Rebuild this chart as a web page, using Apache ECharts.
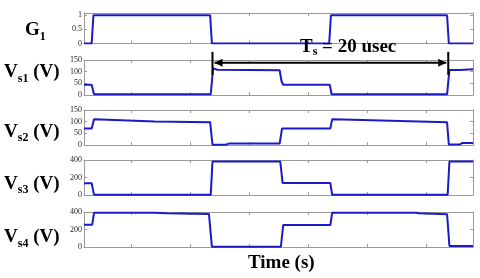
<!DOCTYPE html>
<html><head><meta charset="utf-8">
<script src="https://cdn.jsdelivr.net/npm/echarts@6/dist/echarts.min.js"></script>
<style>html,body{margin:0;padding:0;background:#fff}#c{width:480px;height:278px}</style>
</head><body><div id="c"></div>
<script>
// time axis in microseconds
const xTicks = [4, 9, 14, 19, 24, 29];

const g1T = [0, 0.65, 0.8, 10.7, 10.85, 20.8, 20.95, 30.8, 30.95, 33];
const g1V = [0, 0, 1, 1, 0, 0, 1, 1, 0, 0];

const vs1T = [0, 0.65, 0.85, 10.75, 10.95, 11.3, 16.6, 16.75, 16.9, 20.85, 21.0, 30.8, 31.0, 31.9, 32.05, 33];
const vs1V = [44, 44, 3, 3, 114, 108, 106, 60, 44, 44, 3, 3, 107, 107, 110, 110];

const vs2T = [0, 0.65, 0.85, 2, 6, 10.7, 10.9, 12.0, 12.3, 16.6, 16.8, 20.9, 21.05, 22, 30.8, 30.95, 31.9, 32.1, 33];
const vs2V = [71, 71, 110, 108, 101, 98, 1, 1, 6, 6, 71, 71, 110, 109, 97, 2, 2, 9, 9];

const vs3T = [0, 0.65, 0.85, 10.75, 10.9, 16.65, 16.85, 20.9, 21.05, 30.85, 31.0, 33];
const vs3V = [135, 135, 2, 2, 382, 382, 136, 136, 3, 3, 382, 382];

const vs4T = [0, 0.7, 0.85, 6, 7, 10.6, 10.85, 16.7, 16.9, 20.9, 21.05, 28.2, 28.4, 30.8, 31.0, 33];
const vs4V = [255, 255, 392, 392, 385, 378, 3, 3, 251, 251, 392, 392, 385, 375, 11, 11];

const yMax = [1.08, 150, 150, 400, 400];
const yTicks = [[0, 0.5, 1], [0, 50, 100, 150], [0, 50, 100, 150], [0, 200, 400], [0, 200, 400]];
const names = ['G1', 'Vs1', 'Vs2', 'Vs3', 'Vs4'];
const seriesT = [g1T, vs1T, vs2T, vs3T, vs4T];
const seriesV = [g1V, vs1V, vs2V, vs3V, vs4V];

// Ts annotation (in Vs1 panel coordinates)
const tsStart = 10.9, tsEnd = 30.9, tsArrowY = 138, tsBarTop = 185, tsBarBottom = 86;

const tops = [13, 60, 110, 160, 212];
const heights = [30.5, 35, 35, 35, 35];
const axisColor = '#9a9a9a';
const lineColor = '#1a1ac8';
const serif = 'Liberation Serif';

const grids = [], xAxes = [], yAxes = [], series = [];
for (let i = 0; i < 5; i++) {
  grids.push({left: 84, width: 389, top: tops[i], height: heights[i]});
  ['bottom', 'top'].forEach(pos => xAxes.push({
    gridIndex: i, type: 'value', position: pos, min: 0, max: 33,
    axisLine: {show: true, onZero: false, lineStyle: {color: axisColor, width: 1}},
    axisTick: {show: true, inside: true, length: 3, customValues: xTicks, lineStyle: {color: axisColor}},
    axisLabel: {show: false}, splitLine: {show: false}
  }));
  ['left', 'right'].forEach(pos => yAxes.push({
    gridIndex: i, type: 'value', position: pos, min: 0, max: yMax[i],
    axisLine: {show: true, onZero: false, lineStyle: {color: axisColor, width: 1}},
    axisTick: {show: true, inside: true, length: 3, customValues: yTicks[i], lineStyle: {color: axisColor}},
    axisLabel: {show: pos === 'left', customValues: yTicks[i], fontSize: 8, fontFamily: serif, color: '#222', margin: 2},
    splitLine: {show: false}
  }));
  series.push({
    name: names[i], type: 'line', xAxisIndex: 2 * i, yAxisIndex: 2 * i,
    data: seriesT[i].map((t, k) => [t, seriesV[i][k]]),
    symbol: 'none', lineStyle: {color: lineColor, width: 2}, clip: true
  });
}

const rich = {
  m: {fontSize: 19, fontWeight: 'bold', fontFamily: serif, color: '#000', lineHeight: 24, verticalAlign: 'middle'},
  s: {fontSize: 12, fontWeight: 'bold', fontFamily: serif, color: '#000', lineHeight: 12, verticalAlign: 'bottom'}
};
const labelTops = [18.5, 60.5, 120, 172, 225.5];
const labelLefts = [25, 4, 4, 4, 4];
const labelTexts = ['{m|G}{s|1}', '{m|V}{s|s1}{m| (V)}', '{m|V}{s|s2}{m| (V)}', '{m|V}{s|s3}{m| (V)}', '{m|V}{s|s4}{m| (V)}'];
const titles = labelTexts.map((t, i) => ({text: t, left: labelLefts[i], top: labelTops[i], padding: 0, textStyle: {rich}}));
titles.push({text: 'Time (s)', left: 248, top: 254, padding: 0,
  textStyle: {fontSize: 19, fontWeight: 'bold', fontFamily: serif, color: '#000'}});
titles.push({text: '{m|T}{s|s}{m| = 20 usec}', left: 300, top: 36, padding: 0,
  textStyle: {rich: {
    m: {fontSize: 19, fontWeight: 'bold', fontFamily: serif, color: '#000', lineHeight: 22, verticalAlign: 'middle'},
    s: {fontSize: 12, fontWeight: 'bold', fontFamily: serif, color: '#000', lineHeight: 12, verticalAlign: 'bottom'}
  }}});

const chart = echarts.init(document.getElementById('c'), null, {renderer: 'canvas'});
chart.setOption({animation: false, backgroundColor: '#fff', title: titles, grid: grids, xAxis: xAxes, yAxis: yAxes, series});

const P = (t, v) => chart.convertToPixel({xAxisIndex: 2, yAxisIndex: 2}, [t, v]);
const a = P(tsStart, tsArrowY), b = P(tsEnd, tsArrowY);
const bt1 = P(tsStart, tsBarTop), bb1 = P(tsStart, tsBarBottom);
const bt2 = P(tsEnd, tsBarTop), bb2 = P(tsEnd, tsBarBottom);
const ah = 8, aw = 4;
chart.setOption({graphic: [
  {type: 'line', shape: {x1: a[0] + 2, y1: a[1], x2: b[0] - 2, y2: b[1]}, style: {stroke: '#000', lineWidth: 2}, z: 100},
  {type: 'polygon', shape: {points: [[a[0] + 2, a[1]], [a[0] + 2 + ah, a[1] - aw], [a[0] + 2 + ah, a[1] + aw]]}, style: {fill: '#000'}, z: 100},
  {type: 'polygon', shape: {points: [[b[0] - 2, b[1]], [b[0] - 2 - ah, b[1] - aw], [b[0] - 2 - ah, b[1] + aw]]}, style: {fill: '#000'}, z: 100},
  {type: 'line', shape: {x1: bt1[0], y1: bt1[1], x2: bb1[0], y2: bb1[1]}, style: {stroke: '#000', lineWidth: 2}, z: 100},
  {type: 'line', shape: {x1: bt2[0], y1: bt2[1], x2: bb2[0], y2: bb2[1]}, style: {stroke: '#000', lineWidth: 2}, z: 100}
]});
</script></body></html>
